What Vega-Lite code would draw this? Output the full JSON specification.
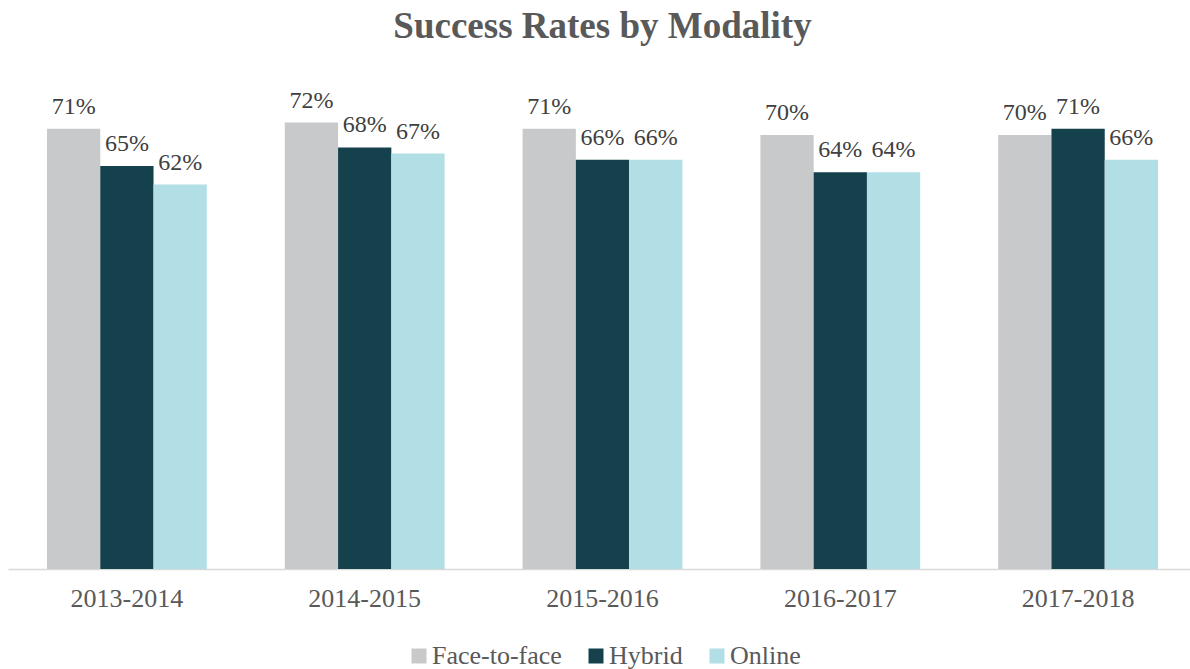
{
  "$schema": "https://vega.github.io/schema/vega-lite/v6.json",
  "width": 1189,
  "height": 496,
  "autosize": {"type": "none"},
  "padding": {"left": 8, "top": 73, "right": 0, "bottom": 100},
  "background": "white",
  "config": {"view": {"stroke": null}},
  "title": {
    "text": "Success Rates by Modality",
    "font": "Liberation Serif",
    "fontSize": 37,
    "fontWeight": "bold",
    "color": "#595959",
    "anchor": "middle",
    "baseline": "alphabetic",
    "offset": -2
  },
  "data": {
    "values": [
      {"year": "2013-2014", "modality": "Face-to-face", "value": 0.71},
      {"year": "2013-2014", "modality": "Hybrid", "value": 0.65},
      {"year": "2013-2014", "modality": "Online", "value": 0.62},
      {"year": "2014-2015", "modality": "Face-to-face", "value": 0.72},
      {"year": "2014-2015", "modality": "Hybrid", "value": 0.68},
      {"year": "2014-2015", "modality": "Online", "value": 0.67},
      {"year": "2015-2016", "modality": "Face-to-face", "value": 0.71},
      {"year": "2015-2016", "modality": "Hybrid", "value": 0.66},
      {"year": "2015-2016", "modality": "Online", "value": 0.66},
      {"year": "2016-2017", "modality": "Face-to-face", "value": 0.70},
      {"year": "2016-2017", "modality": "Hybrid", "value": 0.64},
      {"year": "2016-2017", "modality": "Online", "value": 0.64},
      {"year": "2017-2018", "modality": "Face-to-face", "value": 0.70},
      {"year": "2017-2018", "modality": "Hybrid", "value": 0.71},
      {"year": "2017-2018", "modality": "Online", "value": 0.66}
    ]
  },
  "encoding": {
    "x": {
      "field": "year",
      "type": "nominal",
      "scale": {"paddingInner": 0.328, "paddingOuter": 0.164},
      "axis": {
        "title": null,
        "labelAngle": 0,
        "ticks": false,
        "domainColor": "#D9D9D9",
        "domainWidth": 1.5,
        "labelFont": "Liberation Serif",
        "labelFontSize": 26,
        "labelColor": "#595959",
        "labelPadding": 16
      }
    },
    "xOffset": {"field": "modality", "type": "nominal", "sort": ["Face-to-face", "Hybrid", "Online"]},
    "y": {
      "field": "value",
      "type": "quantitative",
      "scale": {"domain": [0, 0.8], "nice": false},
      "axis": null
    }
  },
  "layer": [
    {
      "mark": {"type": "bar"},
      "encoding": {
        "color": {
          "field": "modality",
          "type": "nominal",
          "sort": ["Face-to-face", "Hybrid", "Online"],
          "scale": {"domain": ["Face-to-face", "Hybrid", "Online"], "range": ["#C8C9CB", "#15414D", "#B1DFE5"]},
          "legend": {
            "title": null,
            "orient": "none",
            "direction": "horizontal",
            "legendX": 398,
            "legendY": 570,
            "symbolType": "square",
            "symbolSize": 225,
            "symbolStrokeWidth": 0,
            "labelFont": "Liberation Serif",
            "labelFontSize": 26,
            "labelColor": "#595959",
            "labelOffset": 0,
            "columnPadding": 21,
            "symbolOpacity": 1
          }
        }
      }
    },
    {
      "mark": {
        "type": "text",
        "font": "Liberation Serif",
        "fontSize": 24,
        "color": "#404040",
        "baseline": "alphabetic",
        "dy": -15
      },
      "encoding": {
        "text": {"field": "value", "type": "quantitative", "format": ".0%"}
      }
    }
  ]
}
